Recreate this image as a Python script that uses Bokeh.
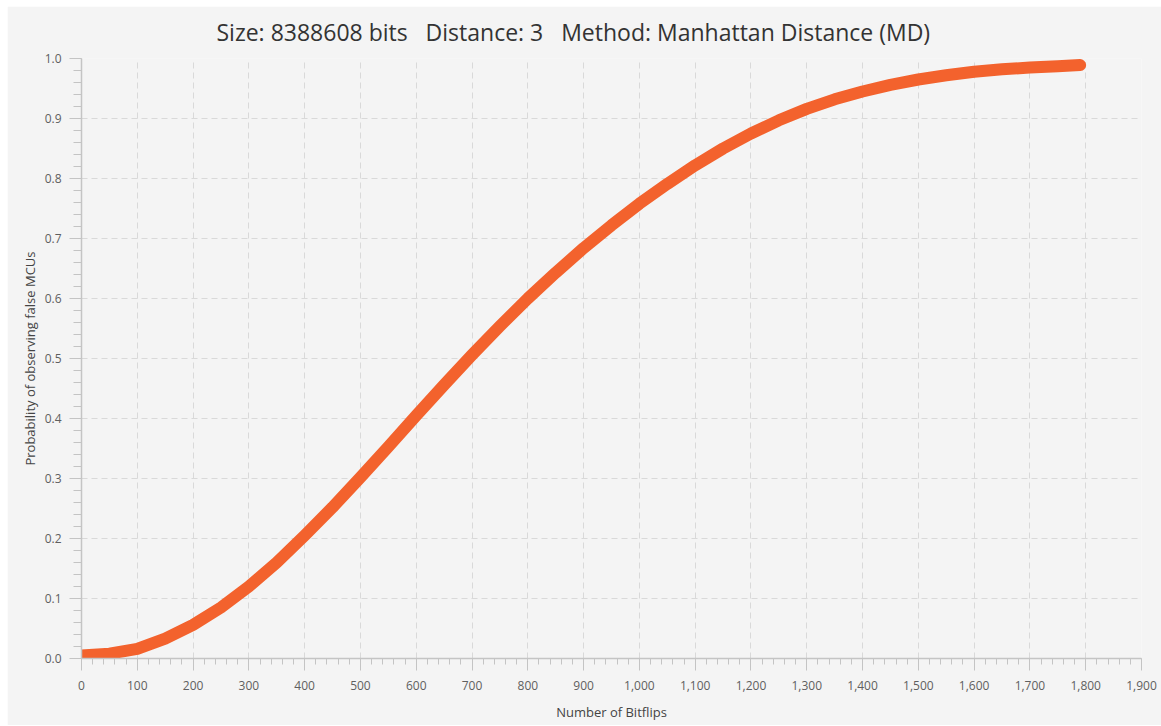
from bokeh.plotting import figure
from bokeh.embed import file_html
from bokeh.resources import INLINE
from bokeh.models import SingleIntervalTicker, NumeralTickFormatter, Range1d

# Data
bitflips = [0, 50, 100, 150, 200, 250, 300, 350, 400, 450, 500, 550, 600, 650,
            700, 750, 800, 850, 900, 950, 1000, 1050, 1100, 1150, 1200, 1250,
            1300, 1350, 1400, 1450, 1500, 1550, 1600, 1650, 1700, 1750, 1790]
probability = [0.005, 0.008, 0.016, 0.033, 0.056, 0.085, 0.120, 0.160, 0.205,
               0.252, 0.302, 0.353, 0.405, 0.456, 0.506, 0.554, 0.600, 0.643,
               0.684, 0.722, 0.758, 0.791, 0.822, 0.850, 0.875, 0.897, 0.916,
               0.932, 0.945, 0.956, 0.965, 0.972, 0.978, 0.982, 0.985, 0.987,
               0.989]

title_text = "Size: 8388608 bits\u00a0\u00a0 Distance: 3\u00a0\u00a0 Method: Manhattan Distance (MD)"
x_label = "Number of Bitflips"
y_label = "Probability of observing false MCUs"

BG = "#f4f4f4"
FONT = "Open Sans"

p = figure(width=1154, height=719, output_backend="svg", toolbar_location=None,
           x_range=Range1d(0, 1900), y_range=Range1d(0, 1.0),
           min_border_left=74, min_border_right=20, min_border_top=52,
           min_border_bottom=67)
p.margin = (6, 0, 0, 7)

p.background_fill_color = BG
p.border_fill_color = BG
p.outline_line_color = None

p.title.text = title_text
p.title.align = "left"
p.title.vertical_align = "top"
p.title.text_font = FONT
p.title.text_font_size = "23px"
p.title.text_font_style = "normal"
p.title.text_color = "#333333"
p.title.offset = 135
p.title.standoff = 18

p.line(bitflips, probability, line_color="#f3622d", line_width=12,
       line_cap="round", line_join="round")

# X axis
xa = p.xaxis[0]
xa.ticker = SingleIntervalTicker(interval=100, num_minor_ticks=5)
xa.formatter = NumeralTickFormatter(format="0,0")
xa.axis_label = x_label
# Y axis
ya = p.yaxis[0]
ya.ticker = SingleIntervalTicker(interval=0.1, num_minor_ticks=5)
ya.formatter = NumeralTickFormatter(format="0.0")
ya.axis_label = y_label

for ax in (xa, ya):
    ax.axis_line_color = "#c4c4c4"
    ax.axis_line_width = 1.5
    ax.major_tick_line_color = "#c4c4c4"
    ax.minor_tick_line_color = "#c4c4c4"
    ax.major_tick_in = 0
    ax.minor_tick_in = 0
    ax.major_tick_out = 12
    ax.major_label_text_font = FONT
    ax.major_label_text_font_size = "12px"
    ax.major_label_text_color = "#5f5f5f"
    ax.axis_label_text_font = FONT
    ax.axis_label_text_font_size = "13px"
    ax.axis_label_text_font_style = "normal"
    ax.axis_label_text_color = "#444444"

xa.minor_tick_out = 6
ya.minor_tick_out = 8
xa.major_label_standoff = 10
xa.axis_label_standoff = 10
ya.major_label_standoff = 8
ya.axis_label_standoff = 3

for g in (p.xgrid[0], p.ygrid[0]):
    g.grid_line_color = "#d9d9d9"
    g.grid_line_dash = "6 4"
    g.grid_line_width = 1

open("out.html", "w").write(file_html(p, INLINE))
